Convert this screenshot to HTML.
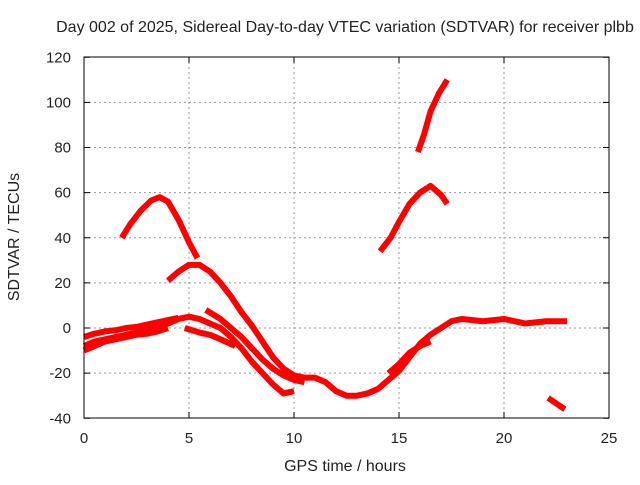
<!DOCTYPE html>
<html><head><meta charset="utf-8"><style>
body{margin:0;background:#fff;width:640px;height:480px;overflow:hidden}
svg text{font-family:"Liberation Sans",sans-serif;font-size:15px;fill:#222}
</style></head><body>
<svg id="c" width="640" height="480">
<text x="345" y="32" text-anchor="middle" style="font-size:16px">Day 002 of 2025, Sidereal Day-to-day VTEC variation (SDTVAR) for receiver plbb</text>
<text x="345" y="471" text-anchor="middle" style="font-size:16px">GPS time / hours</text>
<text transform="translate(19,237) rotate(-90)" text-anchor="middle" style="font-size:16px">SDTVAR / TECUs</text>
<g id="grid"></g>
<g id="series"></g>
<rect x="84" y="57" width="525" height="361" fill="none" stroke="#000" stroke-width="1"/>
<g id="ticks"></g>
</svg>
<script>
const xTicks=[0,5,10,15,20,25];
const yTicks=[-40,-20,0,20,40,60,80,100,120];
const arc1=[[1.8,40],[2.2,46],[2.7,52],[3.2,56.5],[3.6,58],[4.0,56],[4.5,48],[5.0,38],[5.4,31]];
const arc2=[[4.0,21],[4.5,25],[5.0,28],[5.5,28],[6.0,25],[6.5,20],[7.0,14],[7.5,7],[8.0,1],[8.5,-6],[9.0,-13],[9.5,-18],[10,-21],[10.5,-22],[11,-22],[11.5,-24],[12,-28],[12.5,-30],[13,-30],[13.5,-29],[14,-27],[14.5,-23],[15,-19],[15.5,-13],[16,-7],[16.5,-3],[17,0],[17.5,3],[18,4],[19,3],[20,4],[21,2],[22,3],[23,3]];
const base1=[[0,-8],[0.5,-6],[1,-5],[1.5,-4],[2,-3],[2.5,-2],[3,-1],[3.5,0],[4,2],[4.5,4],[5,5],[5.5,4],[6,2],[6.5,0],[7,-4],[7.5,-9],[8,-15],[8.5,-20],[9,-25],[9.5,-29],[10,-28]];
const base2=[[0,-4],[0.5,-2.5],[1,-1.5],[1.5,-1],[2,0],[2.5,0.5],[3,1.5],[3.5,2.5],[4,3.5],[4.5,4.5]];
const base3=[[0,-10],[0.5,-8],[1,-6],[1.5,-5],[2,-4],[2.5,-3],[3,-2.5],[3.5,-1.5],[4,0]];
const branch1=[[4.8,0],[5.5,-2],[6,-3],[6.5,-5],[7.2,-8]];
const branch2=[[5.8,8],[6.5,4],[7,0],[7.5,-4],[8,-9],[8.5,-14],[9,-18],[9.5,-21],[10,-23],[10.5,-24]];
const band2=[[14.5,-20],[15,-16],[15.5,-11],[16,-8],[16.5,-6]];
const arc3=[[14.1,34],[14.6,40],[15,47],[15.5,55],[16,60],[16.5,63],[17,59],[17.3,55]];
const arc4=[[15.9,78],[16.2,86],[16.5,96],[16.9,104],[17.3,110]];
const tail=[[22.1,-31],[22.9,-36]];
const allSeries=[arc1,arc2,base1,base2,base3,branch1,branch2,band2,arc3,arc4,tail];
const X=h=>84+h*21, Y=v=>328-v*2.25625;
const NS='http://www.w3.org/2000/svg';
const mk=(t,a)=>{const e=document.createElementNS(NS,t);for(const k in a)e.setAttribute(k,a[k]);return e;};
const grid=document.getElementById('grid'),ticks=document.getElementById('ticks'),ser=document.getElementById('series');
xTicks.forEach(t=>{
 if(t>0&&t<25){const l=mk('line',{x1:X(t),x2:X(t),y1:57,y2:418,stroke:'#999','stroke-dasharray':'2,3'});grid.appendChild(l);}
 const k=mk('line',{x1:X(t),x2:X(t),y1:418,y2:412,stroke:'#000'});ticks.appendChild(k);
 const k2=mk('line',{x1:X(t),x2:X(t),y1:57,y2:63,stroke:'#000'});ticks.appendChild(k2);
 const tx=mk('text',{x:X(t),y:443,'text-anchor':'middle'});tx.textContent=t;ticks.appendChild(tx);
});
yTicks.forEach(t=>{
 if(t>-40&&t<120){const l=mk('line',{x1:84,x2:609,y1:Y(t),y2:Y(t),stroke:'#999','stroke-dasharray':'2,3'});grid.appendChild(l);}
 const k=mk('line',{x1:84,x2:90,y1:Y(t),y2:Y(t),stroke:'#000'});ticks.appendChild(k);
 const k2=mk('line',{x1:603,x2:609,y1:Y(t),y2:Y(t),stroke:'#000'});ticks.appendChild(k2);
 const tx=mk('text',{x:71,y:Y(t)+5,'text-anchor':'end'});tx.textContent=t;ticks.appendChild(tx);
});
allSeries.forEach(s=>{
 const p=mk('polyline',{points:s.map(d=>X(d[0])+','+Y(d[1])).join(' '),fill:'none',stroke:'#f00','stroke-width':6,'stroke-linejoin':'round'});
 
 
 ser.appendChild(p);
});
</script>
</body></html>
